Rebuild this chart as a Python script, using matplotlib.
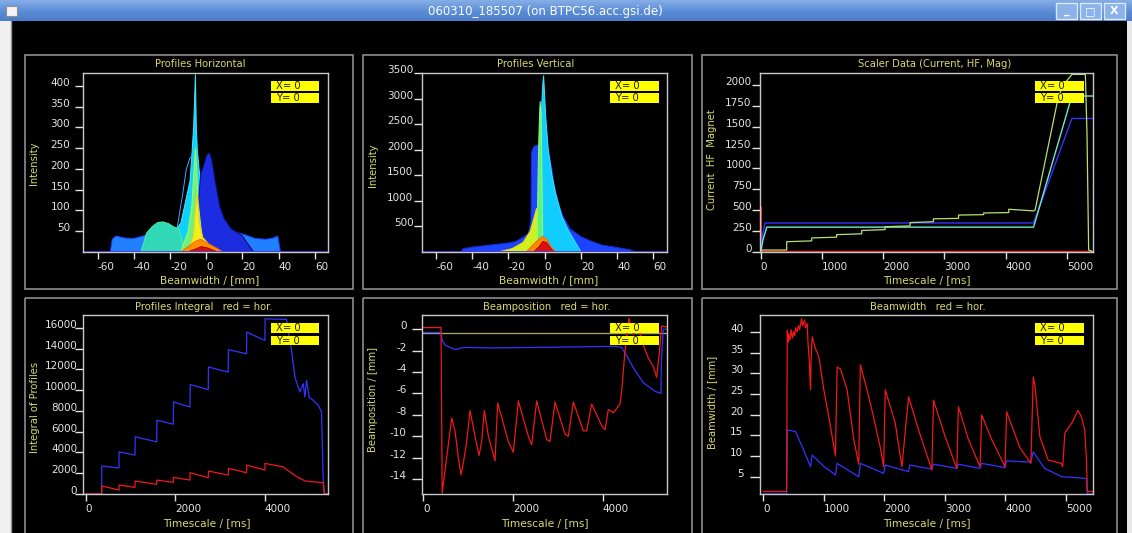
import matplotlib
matplotlib.use("Agg")
import matplotlib.pyplot as plt
import numpy as np
from matplotlib.patches import Rectangle

plt.rcParams["axes.unicode_minus"] = False

W, H = 1132, 533
KHAKI = "#d8d870"
TICK = "#e4e4e4"
BLUE = "#3434ff"
RED = "#f01818"

WINDOW_TITLE = "060310_185507 (on BTPC56.acc.gsi.de)"

# ---- profiles horizontal (mm, intensity) ----
h_base_x = [-53, -52, -50, -45, -40, -35, -30, -25, -20, -16, -12, -8, -4, 0, 4, 8, 12, 18, 22, 27, 33, 37, 39.5, 41]
h_base_y = [0, 30, 38, 33, 32, 38, 45, 50, 48, 55, 65, 90, 120, 120, 100, 75, 55, 45, 40, 32, 30, 33, 38, 0]
h_spike_x = [-35, -25, -18, -14, -11, -9, -8, -7, -6.5, -6, -5.5, -5, -4, -3, -2, 0, 3, 6, 10, 15]
h_spike_y = [0, 30, 45, 70, 130, 170, 230, 300, 360, 428, 300, 250, 200, 160, 120, 80, 50, 35, 20, 0]
h_peak_x = [-8, -6, -4, -3, -1, 0, 1.7, 3, 5, 7.5, 10, 14, 20, 26]
h_peak_y = [0, 60, 140, 190, 215, 232, 240, 225, 170, 110, 80, 55, 38, 0]
h_hump_x = [-36, -33, -30, -27, -24, -21, -18, -15, -12]
h_hump_y = [0, 45, 60, 70, 72, 68, 60, 55, 0]
h_green_x = [-14, -10, -8, -7, -6, -5.3, -4.5, -3, -1]
h_green_y = [0, 50, 110, 180, 250, 200, 120, 60, 0]
h_yellow_x = [-10, -7, -6, -5, -4, -2, 1, 5]
h_yellow_y = [0, 40, 100, 140, 70, 35, 20, 0]
h_orange_x = [-14, -10, -6, -3, 0, 3, 6, 9]
h_orange_y = [0, 12, 25, 30, 22, 15, 8, 0]
h_red_x = [-10, -6, -3, 0, 3, 6]
h_red_y = [0, 6, 12, 10, 5, 0]
h_thin_x = [-16, -13, -11, -9, -8]
h_thin_y = [60, 140, 200, 226, 230]

# ---- profiles vertical ----
v_base_x = [-46, -45, -40, -30, -20, -16, -12, -9, -7.6, -7.2, -6, -4.4, -2.6, 0, 2, 4, 5.7, 8, 10.3, 14, 20, 26, 31.5, 37, 42.5, 47, 50]
v_base_y = [0, 60, 90, 130, 170, 200, 280, 360, 600, 1950, 2060, 2090, 2090, 2050, 1990, 1600, 1206, 900, 685, 450, 293, 200, 130, 100, 65, 40, 0]
v_spike_x = [-12, -6, -3.5, -2.4, -1.6, -1.0, -0.6, -0.2, 0.6, 2, 4, 6, 9.4, 13, 20]
v_spike_y = [0, 200, 700, 2000, 2900, 3300, 3455, 3200, 2640, 1990, 1500, 1150, 700, 420, 0]
v_green_x = [-4.2, -3.9, -3.5, -3, -2.5, -2, -1.5, -1]
v_green_y = [0, 900, 1800, 2500, 2950, 2700, 1500, 0]
v_yellow_x = [-25, -18, -12, -8, -6, -4.5, -3, -1, 2]
v_yellow_y = [0, 60, 180, 400, 650, 850, 500, 250, 0]
v_orange_x = [-10, -6, -3, -1, 1, 3, 6]
v_orange_y = [0, 150, 250, 300, 250, 120, 0]
v_red_x = [-6, -3, -1, 1, 3, 5]
v_red_y = [0, 100, 200, 180, 80, 0]

# ---- scaler data (ms) ----
red_sc_t = [0, 0, 15, 5425]
red_sc_v = [0, 540, 0, 0]
mag_t = [0, 30, 70, 4455, 5080, 5425]
mag_v = [0, 200, 345, 345, 1600, 1600]
hf_t = [0, 40, 100, 4455, 5080, 5425]
hf_v = [0, 150, 295, 295, 1870, 1870]
cur_t = [0, 425, 425, 833, 833, 1240, 1240, 1650, 1650, 2030, 2030, 2440, 2440, 2820, 2820,
         3230, 3230, 3640, 3640, 4050, 4050, 4455, 4480, 4837, 4918, 5082, 5300, 5327, 5354, 5425]
cur_v = [20, 20, 120, 130, 165, 175, 205, 215, 255, 265, 300, 310, 350, 360, 395,
         400, 440, 445, 465, 470, 510, 490, 500, 1780, 1980, 2130, 2130, 1420, 20, 0]

# ---- profiles integral ----
int_blue_t = [0, 357, 360, 743, 745, 1100, 1105, 1584, 1590, 1955,
              1960, 2327, 2332, 2736, 2740, 3182, 3186, 3591, 3595, 4000,
              4005, 4483, 4520, 4595, 4670, 4780, 4855, 4892, 4930, 4990,
              5078, 5190, 5264, 5300, 5323, 5430]
int_blue_v = [0, 0, 2700, 2500, 4060, 3740, 5500, 5020, 7100, 6720,
              8860, 8380, 10530, 10050, 12220, 11740, 13890, 13500, 15580, 14780,
              16860, 16800, 15740, 13820, 11260, 9820, 10620, 9340, 10940, 9300,
              9020, 8540, 7900, 1660, 0, 0]
int_red_t = [0, 357, 360, 743, 746, 1100, 1103, 1584, 1587, 1955,
             1958, 2327, 2330, 2736, 2739, 3182, 3185, 3591, 3594, 4000,
             4003, 4400, 4700, 4900, 5260, 5300, 5330, 5430]
int_red_v = [0, 0, 770, 380, 860, 640, 1250, 930, 1340, 1120,
             1600, 1340, 2050, 1570, 2210, 1820, 2460, 2050, 2780, 2300,
             2940, 2620, 1700, 1250, 1100, 1100, 0, 0]

# ---- beam position ----
pos_red_t = [0, 394, 420, 520, 632, 706, 780, 840, 892, 967,
             1041, 1152, 1242, 1301, 1360, 1450, 1599, 1658, 1896, 2007,
             2119, 2342, 2416, 2528, 2751, 2825, 2937, 3160, 3234, 3346,
             3569, 3643, 3755, 3978, 4052, 4126, 4238, 4387, 4424, 4498,
             4587, 4684, 4796, 4907, 5019, 5130, 5204, 5257, 5316, 5440]
pos_red_v = [0.15, 0.15, -15.3, -12, -8.3, -9.5, -12, -13.6, -12.5, -10.5,
             -7.6, -10, -11.8, -10.5, -7.6, -10, -12.3, -6.9, -10.5, -11.5,
             -6.7, -10, -10.8, -6.7, -10.3, -10.5, -6.8, -9.8, -10, -6.8,
             -9.5, -9.5, -7.0, -9, -9.4, -7.5, -7.8, -7.0, -5.8, -2,
             1.0, -0.5, 0.3, -1.5, -2.7, -3.5, -4.5, -2.5, 0.3, 0.2]
pos_blue_t = [0, 394, 420, 483, 706, 900, 1500, 2500, 3500, 4300,
              4424, 4498, 4684, 4907, 5167, 5300, 5310, 5353, 5440]
pos_blue_v = [-0.3, -0.3, -1.0, -1.5, -1.9, -1.7, -1.75, -1.7, -1.65, -1.6,
              -1.7, -2.2, -3.6, -5.0, -5.8, -6.0, -3, 0, 0]
pos_ref = -0.37

# ---- beam width ----
bw_red_t = [0, 385, 396, 410, 420, 440, 460, 480, 500, 520, 533, 560, 580, 600, 632, 650, 680, 700, 725,
            740, 760, 780, 790, 808, 860, 918, 1000, 1100,
            1192, 1220, 1275, 1385, 1495, 1577, 1604, 1714, 1797, 1934, 1989, 2016, 2181, 2291, 2401,
            2566, 2786, 2813, 3005, 3198, 3225, 3390, 3582, 3610, 3775, 3995, 4022, 4242, 4423, 4462,
            4490, 4571, 4709, 4929, 4950, 4984, 5100, 5203, 5258, 5313, 5340, 5357, 5450]
bw_red_v = [1.4, 1.4, 40.4, 37.5, 39.5, 38, 40.5, 38.5, 40, 39, 41, 40, 41.5, 40.5, 43.2, 41.5, 42.8, 41, 42,
            37, 33, 26, 33, 38.8, 36, 34, 26, 18,
            10, 31.5, 31, 26, 14, 8, 32, 26, 21, 12, 7.4, 26, 17.9, 7.4, 24.3,
            16.3, 6.6, 23.5, 14.7, 7, 21.9, 14, 7.4, 19.9, 14, 7.4, 20.7, 12, 8.2, 29.1,
            27, 14.7, 9, 8.2, 7.4, 15.5, 18, 21, 19.5, 16.3, 9.8, 1.4, 1.4]
bw_blue_t = [0, 385, 396, 533, 650, 780, 808, 1000, 1192, 1220, 1577, 1604, 1989, 2016, 2401, 2420,
             2786, 2813, 3198, 3225, 3582, 3610, 3995, 4022, 4423, 4462, 4650, 4929, 5313, 5340, 5357, 5450]
bw_blue_v = [0.8, 0.8, 16.3, 15.9, 12, 7.4, 10.2, 7.5, 5.4, 8.2, 5, 8.2, 5.8, 7.8, 6.2, 7.8,
             6.8, 8, 7, 8, 7, 8.2, 7.2, 8.8, 8.5, 11, 7, 5, 4.6, 4.5, 0.8, 0.8]


fig = plt.figure(figsize=(W / 100, H / 100), dpi=100, facecolor="black")


def px_axes(left, top, right, bottom):
    return fig.add_axes([left / W, 1 - bottom / H, (right - left) / W, (bottom - top) / H])


def style(ax, xlim, ylim, xticks, yticks, ypad=2, ylen=6):
    ax.set_facecolor("black")
    ax.set_xlim(*xlim)
    ax.set_ylim(*ylim)
    for s in ax.spines.values():
        s.set_color("#c8c8c8")
        s.set_linewidth(1)
    ax.set_xticks(xticks)
    ax.set_yticks(yticks)
    ax.tick_params(colors=TICK, labelsize=7.5, width=1, direction="out")
    ax.tick_params(axis="x", length=5, pad=2.5)
    ax.tick_params(axis="y", length=ylen, pad=ypad)
    for lbl in ax.get_xticklabels():
        lbl.set_horizontalalignment("left")
    for lbl in ax.get_yticklabels():
        lbl.set_verticalalignment("baseline")


def prof(ax, x, y, fc, ec):
    ax.fill(x, y, facecolor=fc, edgecolor=ec, linewidth=0.7)


# row 1
ax1 = px_axes(82.7, 72.7, 328.2, 251.7)
style(ax1, (-68.3, 67.4), (0, 432), range(-60, 61, 20), range(50, 401, 50), ypad=3)
prof(ax1, h_base_x, h_base_y, "#2080ff", "#1840ff")
prof(ax1, h_spike_x, h_spike_y, "#10d0ff", "#40e8ff")
prof(ax1, h_hump_x, h_hump_y, "#30d8b8", "#50f0a0")
prof(ax1, h_peak_x, h_peak_y, "#1c2ce0", "#0a0a60")
prof(ax1, h_green_x, h_green_y, "#70f080", "#a0ff60")
prof(ax1, h_yellow_x, h_yellow_y, "#f0f020", "#ffd000")
prof(ax1, h_orange_x, h_orange_y, "#ff9000", "#ff6000")
prof(ax1, h_red_x, h_red_y, "#d81010", "#a00000")
ax1.plot(h_thin_x, h_thin_y, color="#50a0ff", lw=0.7)
ax1.axhline(0, color="#3020c8", lw=2)

ax2 = px_axes(421.7, 72.7, 667.3, 251.7)
style(ax2, (-67.9, 67.7), (0, 3510), range(-60, 61, 20), range(500, 3501, 500), ypad=0)
prof(ax2, v_base_x, v_base_y, "#1c44ff", "#1030e0")
prof(ax2, v_spike_x, v_spike_y, "#10ccff", "#40e0ff")
prof(ax2, v_yellow_x, v_yellow_y, "#d0f020", "#f0e000")
prof(ax2, v_green_x, v_green_y, "#60f080", "#90ff70")
prof(ax2, v_orange_x, v_orange_y, "#ff8c00", "#ff6000")
prof(ax2, v_red_x, v_red_y, "#e01010", "#a00000")
ax2.axhline(0, color="#3020c8", lw=2)

ax3 = px_axes(760, 72.7, 1093, 251.7)
style(ax3, (-11, 5425), (0, 2150), range(0, 5001, 1000), range(0, 2001, 250), ypad=0)
ax3.plot(red_sc_t, red_sc_v, color=RED, lw=1.2)
ax3.plot(mag_t, mag_v, color=BLUE, lw=1)
ax3.plot(hf_t, hf_v, color="#70e8d0", lw=1)
ax3.plot(cur_t, cur_v, color="#b8e070", lw=0.9)

# row 2
ax4 = px_axes(82.7, 315.3, 328.2, 494)
style(ax4, (-67, 5413), (0, 17200), [0, 2000, 4000], range(0, 16001, 2000), ypad=-2)
ax4.plot(int_blue_t, int_blue_v, color=BLUE, lw=0.9)
ax4.plot(int_red_t, int_red_v, color=RED, lw=0.9)

ax5 = px_axes(421.7, 315.3, 667.3, 494)
style(ax5, (-37, 5442), (-15.4, 1.3), [0, 2000, 4000], range(0, -15, -2), ypad=4, ylen=7)
ax5.axhline(pos_ref, color="#a0a070", lw=1)
ax5.plot(pos_blue_t, pos_blue_v, color=BLUE, lw=0.9)
ax5.plot(pos_red_t, pos_red_v, color=RED, lw=0.9)

ax6 = px_axes(760, 315.3, 1093, 494)
style(ax6, (-55, 5450), (0.8, 44), range(0, 5001, 1000), range(5, 41, 5), ypad=5, ylen=7)
ax6.plot(bw_blue_t, bw_blue_v, color=BLUE, lw=0.9)
ax6.plot(bw_red_t, bw_red_v, color=RED, lw=0.9)

# window decoration and labels drawn in pixel space
ov = fig.add_axes([0, 0, 1, 1], zorder=10)
ov.axis("off")
ov.patch.set_alpha(0)

grad = np.linspace(0, 1, 32).reshape(-1, 1)
bar_cmap = matplotlib.colors.LinearSegmentedColormap.from_list("bar", ["#86aee6", "#5d8fd8", "#4b7dca"])
ov.imshow(grad, cmap=bar_cmap, extent=[0, W, 21, 0], aspect="auto")
ov.set_xlim(0, W)
ov.set_ylim(H, 0)
ov.add_patch(Rectangle((0, 21), 11, H, facecolor="#f0f0f0", edgecolor="none"))
ov.add_patch(Rectangle((1127, 21), 6, H, facecolor="#e8e8e8", edgecolor="none"))
ov.plot([11, 11], [21, H], color="#909090", lw=1)
ov.add_patch(Rectangle((6, 6), 11, 10, facecolor="#f4f4f4", edgecolor="#909090", lw=0.8))
for bx, glyph in [(1056, "_"), (1080, "\u25a1"), (1104, "X")]:
    ov.add_patch(Rectangle((bx, 3), 21, 16, facecolor="#8bb2ea", edgecolor="#dce8f8", lw=1))
    ov.text(bx + 10.5, 11.5, glyph, color="white", fontsize=8, fontweight="bold",
            ha="center", va="center")

ov.text(545, 11.5, WINDOW_TITLE, color="white", fontsize=8.5, ha="center", va="center")

for l, t, r, b in [(25, 55, 353, 289), (363, 55, 692, 289), (702, 55, 1117, 289),
                   (25, 298, 353, 545), (363, 298, 692, 545), (702, 298, 1117, 545)]:
    ov.add_patch(Rectangle((l, t), r - l, b - t, facecolor="none", edgecolor="#8c8c8c", lw=1.2))

titles = [("Profiles Horizontal", 200, 64), ("Profiles Vertical", 536, 64),
          ("Scaler Data (Current, HF, Mag)", 935, 64), ("Profiles Integral   red = hor.", 204, 307),
          ("Beamposition   red = hor.", 547, 307), ("Beamwidth   red = hor.", 928, 307)]
for s, x, y in titles:
    ov.text(x, y, s, color=KHAKI, fontsize=7.2, ha="center", va="center")

ylabels = [("Intensity", 34, 163), ("Intensity", 373, 165), ("Current  HF  Magnet", 712, 160),
           ("Integral of Profiles", 35, 407), ("Beamposition / [mm]", 373, 400),
           ("Beamwidth / [mm]", 712, 402)]
for s, x, y in ylabels:
    ov.text(x, y, s, color=KHAKI, fontsize=7.2, rotation=90, ha="center", va="center")

xlabels = [("Beamwidth / [mm]", 210, 280), ("Beamwidth / [mm]", 549, 280),
           ("Timescale / [ms]", 927, 280), ("Timescale / [ms]", 207, 523),
           ("Timescale / [ms]", 545, 523), ("Timescale / [ms]", 927, 523)]
for s, x, y in xlabels:
    ov.text(x, y, s, color=KHAKI, fontsize=7.6, ha="center", va="center")

for bx, by in [(270.7, 81), (610, 81), (1035, 81), (270.7, 323.3), (610, 323.3), (1035, 323.3)]:
    for k, s in enumerate(["X= 0", "Y= 0"]):
        y0 = by + k * 12.2
        ov.add_patch(Rectangle((bx, y0), 48.6, 9.8, facecolor="#ffff00", edgecolor="none"))
        ov.text(bx + 5, y0 + 5, s, color="#202000", fontsize=7.2, ha="left", va="center")

fig.savefig("out.png", dpi=100, facecolor="black")
